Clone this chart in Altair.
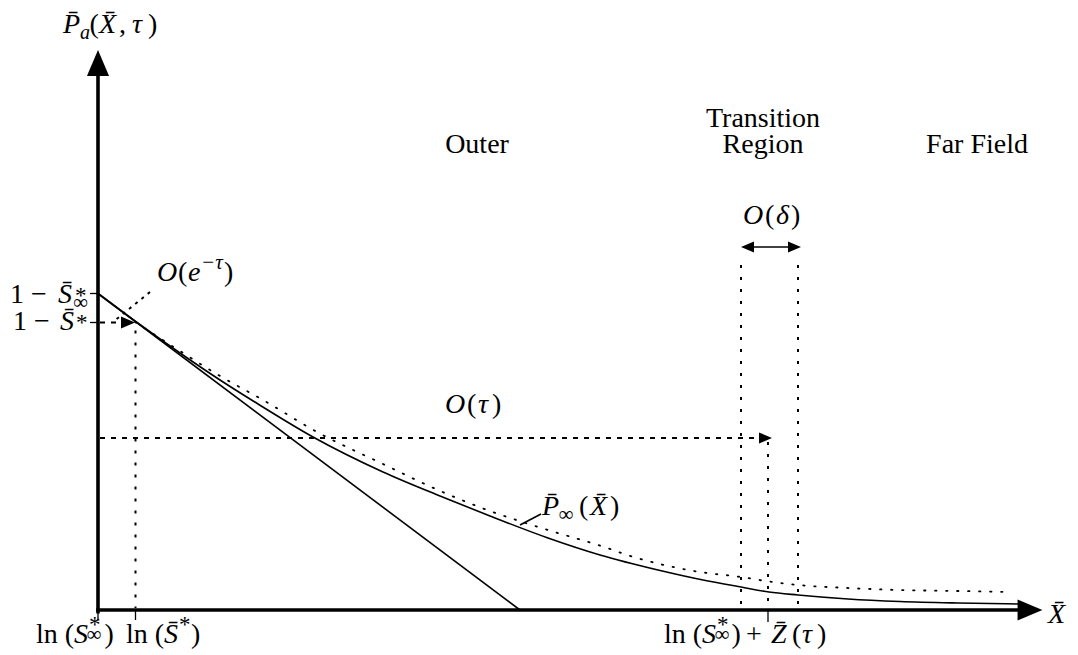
import altair as alt
import pandas as pd

# ---------------- data (X̄ along x, P̄ along y) ----------------
# far-field profile P̄∞(X̄) (solid curve)
p_inf_x = [0.00, 0.37, 0.82, 1.22, 1.60, 2.15, 2.85, 3.42, 3.92, 4.50, 5.02,
           5.60, 6.10, 6.43, 6.71, 7.00, 7.50, 8.02, 8.60, 9.22]
p_inf_y = [3.165, 2.89, 2.57, 2.30, 2.06, 1.73, 1.38, 1.14, 0.94, 0.72, 0.55,
           0.40, 0.29, 0.23, 0.18, 0.15, 0.11, 0.085, 0.07, 0.06]

# outer solution at finite time (dotted curve)
outer_x = [0.37, 0.82, 1.22, 1.65, 2.19, 2.85, 3.40, 3.92, 4.50, 5.00, 5.39,
           6.02, 6.43, 6.71, 7.00, 7.50, 8.02, 8.60, 9.14]
outer_y = [2.88, 2.59, 2.34, 2.10, 1.78, 1.46, 1.20, 0.99, 0.80, 0.65, 0.52,
           0.38, 0.33, 0.285, 0.25, 0.22, 0.20, 0.19, 0.18]

# linear outer approximation from 1 - S̄∞* down to its root
lin_x = [0.0, 4.22]
lin_y = [3.165, 0.0]

# marked levels and positions
lvl_s_inf = 3.165    # 1 - S̄∞*
lvl_s_bar = 2.875    # 1 - S̄*
x_s_bar = 0.375      # ln S̄*
x_front = 6.70       # ln S∞* + Z̄(τ)
x_tr_left = 6.43     # transition region edges
x_tr_right = 7.00
lvl_tau = 1.72       # O(τ) arrow level
lvl_delta = 3.63     # O(δ) arrow level
x_axis_end = 9.22
y_axis_end = 5.36


def segs(pairs):
    rows = []
    for k, (xs, ys) in enumerate(pairs):
        for i, (a, b) in enumerate(zip(xs, ys)):
            rows.append({"seg": k, "i": i, "x": a, "y": b})
    return pd.DataFrame(rows)


X = alt.X("x:Q", scale=alt.Scale(domain=[-0.98, 9.80], nice=False, zero=False), axis=None)
Y = alt.Y("y:Q", scale=alt.Scale(domain=[-0.45, 6.10], nice=False, zero=False), axis=None)


def line_layer(df, **mark):
    return alt.Chart(df).mark_line(color="black", **mark).encode(
        x=X, y=Y, detail="seg:N", order="i:Q")


axes = line_layer(segs([([0, 0], [-0.035, y_axis_end]),
                        ([-0.018, x_axis_end], [0, 0])]),
                  strokeWidth=3.6, strokeCap="butt")

ticks = line_layer(segs([([0, 0], [0, -0.10]),
                         ([x_s_bar, x_s_bar], [0, -0.10]),
                         ([x_front, x_front], [0, -0.12]),
                         ([-0.08, 0], [lvl_s_inf, lvl_s_inf]),
                         ([-0.08, 0], [lvl_s_bar, lvl_s_bar])]),
                   strokeWidth=1.3)

thin = line_layer(segs([(lin_x, lin_y),
                        ([6.50, 6.94], [lvl_delta, lvl_delta]),
                        ([4.22, 4.43], [0.85, 0.96])]),
                  strokeWidth=1.6)

curve = alt.Chart(pd.DataFrame({"x": p_inf_x, "y": p_inf_y})).mark_line(
    color="black", strokeWidth=1.6, interpolate="monotone").encode(x=X, y=Y)

dotted_curve = alt.Chart(pd.DataFrame({"x": outer_x, "y": outer_y})).mark_line(
    color="black", strokeWidth=1.8, interpolate="monotone",
    strokeDash=[1.4, 9.6], strokeCap="round").encode(x=X, y=Y)

verticals = line_layer(segs([([x_tr_left, x_tr_left], [3.45, 0.02]),
                             ([x_tr_right, x_tr_right], [3.45, 0.02]),
                             ([x_front, x_front], [lvl_tau - 0.04, 0.02]),
                             ([x_s_bar, x_s_bar], [lvl_s_bar - 0.08, 0.02])]),
                       strokeWidth=2, strokeDash=[3, 9])

dashed = line_layer(segs([([0.02, 6.61], [lvl_tau, lvl_tau]),
                          ([0.02, 0.25], [lvl_s_bar, lvl_s_bar])]),
                    strokeWidth=2, strokeDash=[5, 6])

diag = line_layer(segs([([0.52, 0.15], [3.18, 2.88])]),
                  strokeWidth=2, strokeDash=[3, 5])

# arrowheads: centre, size and heading (0 = up, 90 = right, 270 = left)
head_x = [0.0, 9.32, 6.675, 0.30, 6.495, 6.965]
head_y = [5.47, 0.0, lvl_tau, lvl_s_bar, lvl_delta, lvl_delta]
head_size = [676, 620, 169, 196, 169, 169]
head_angle = [0, 90, 90, 90, 270, 90]

heads = alt.Chart(pd.DataFrame({"x": head_x, "y": head_y, "s": head_size,
                                "a": head_angle})).mark_point(
    shape="M0,-1L-0.85,1L0.85,1Z", filled=True, opacity=1, color="black",
    strokeWidth=0).encode(
    x=X, y=Y, size=alt.Size("s:Q", scale=None), angle=alt.Angle("a:Q", scale=None))

# ---------------- text ----------------
FONT = "Liberation Serif"
BIG, SUB, STAR = 28, 21, 23

# (text, x, baseline y, size) — upright pieces, left aligned
upright = [
    # P̄a(X̄, τ)
    ("(", -0.085, 5.77, BIG), (",", 0.21, 5.77, BIG), (")", 0.50, 5.77, BIG),
    # O(e^-τ)
    ("(", 0.80, 3.29, BIG), (")", 1.26, 3.29, BIG),
    # 1 - S̄∞*, 1 - S̄*
    ("1 − ", -0.88, 3.07, BIG), ("∞", -0.25, 3.01, SUB), ("*", -0.23, 3.07, STAR),
    ("1 − ", -0.85, 2.80, BIG), ("*", -0.22, 2.80, STAR),
    # ln(S∞*)
    ("ln (", -0.62, -0.33, BIG), ("∞", -0.115, -0.31, SUB),
    ("*", -0.09, -0.22, STAR), (")", 0.065, -0.33, BIG),
    # ln(S̄*)
    ("ln (", 0.28, -0.33, BIG), ("*", 0.81, -0.22, STAR), (")", 0.93, -0.33, BIG),
    # ln(S∞*) + Z̄(τ)
    ("ln (", 5.66, -0.33, BIG), ("∞", 6.165, -0.31, SUB), ("*", 6.19, -0.22, STAR),
    (")", 6.335, -0.33, BIG), ("+", 6.48, -0.33, BIG),
    ("(", 6.94, -0.33, BIG), (")", 7.19, -0.33, BIG),
    # P̄∞(X̄)
    ("∞", 4.605, 0.89, SUB), ("(", 4.81, 0.95, BIG), (")", 5.12, 0.95, BIG),
    # O(τ)
    ("(", 3.69, 1.97, BIG), (")", 3.94, 1.97, BIG),
    # O(δ)
    ("(", 6.67, 3.86, BIG), (")", 6.93, 3.86, BIG),
]

# italic (math) pieces, left aligned
italic = [
    ("P̄", -0.35, 5.77, BIG), ("a", -0.18, 5.71, 20),
    ("X̄", 0.01, 5.77, BIG), ("τ", 0.34, 5.77, BIG),
    ("O", 0.59, 3.29, BIG), ("e", 0.90, 3.29, BIG), ("−τ", 1.03, 3.41, SUB),
    ("S̄", -0.40, 3.07, BIG), ("S̄", -0.38, 2.80, BIG),
    ("S", -0.24, -0.33, BIG), ("S̄", 0.66, -0.33, BIG),
    ("S", 6.04, -0.33, BIG), ("Z̄", 6.73, -0.33, BIG), ("τ", 7.04, -0.33, BIG),
    ("P̄", 4.44, 0.95, BIG), ("X̄", 4.92, 0.95, BIG),
    ("O", 3.47, 1.97, BIG), ("τ", 3.80, 1.97, BIG),
    ("O", 6.45, 3.86, BIG), ("δ", 6.78, 3.86, BIG),
    ("X̄", 9.50, -0.13, BIG),
]

# region names, centred
region_text = ["Transition", "Region", "Outer", "Far Field"]
region_x = [6.65, 6.65, 3.79, 8.79]
region_y = [4.83, 4.57, 4.57, 4.57]


def text_df(items):
    return pd.DataFrame(items, columns=["t", "x", "y", "s"])


def text_layer(df, align="left", style="normal"):
    return alt.Chart(df).mark_text(
        font=FONT, align=align, baseline="alphabetic", fontStyle=style,
        color="black").encode(x=X, y=Y, text="t:N", size=alt.Size("s:Q", scale=None))


t_up = text_layer(text_df(upright))
t_it = text_layer(text_df(italic), style="italic")
t_reg = text_layer(pd.DataFrame({"t": region_text, "x": region_x, "y": region_y,
                                 "s": [BIG] * 4}), align="center")

chart = alt.layer(
    dotted_curve, curve, thin, verticals, dashed, diag, ticks, axes, heads,
    t_up, t_it, t_reg
).properties(
    width=1078, height=655, padding=0, autosize="none", background="white"
).configure_view(stroke=None)

chart.save("out.html", embed_options={"renderer": "svg", "actions": False})
